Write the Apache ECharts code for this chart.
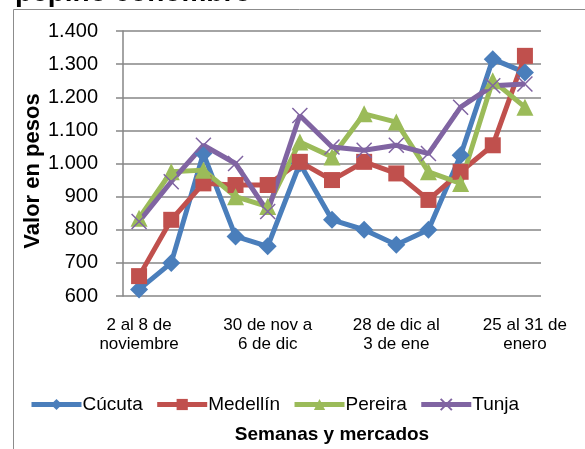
<!DOCTYPE html>
<html>
<head>
<meta charset="utf-8">
<script src="https://cdn.jsdelivr.net/npm/echarts@6/dist/echarts.min.js"></script>
<style>
  html, body { margin: 0; padding: 0; background: #fff; }
  #chart { width: 585px; height: 449px; }
</style>
</head>
<body>
<div id="chart"></div>
<script>
// semanas (13)
var semanas = [
  '2 al 8 de\nnoviembre', '9 al 15 de\nnoviembre', '16 al 22 de\nnoviembre', '23 al 29 de\nnoviembre',
  '30 de nov a\n6 de dic', '7 al 13 de\ndiciembre', '14 al 20 de\ndiciembre', '21 al 27 de\ndiciembre',
  '28 de dic al\n3 de ene', '4 al 10 de\nenero', '11 al 17 de\nenero', '18 al 24 de\nenero',
  '25 al 31 de\nenero'
];

// precios por mercado
var cucuta   = [620, 700, 1030, 780, 750, 1000, 830, 800, 755, 800, 1025, 1315, 1275];
var medellin = [660, 830, 940, 935, 935, 1005, 950, 1005, 970, 890, 975, 1055, 1325];
var pereira  = [835, 975, 980, 900, 870, 1065, 1020, 1150, 1125, 975, 940, 1250, 1170];
var tunja    = [825, 945, 1055, 1000, 855, 1145, 1050, 1040, 1055, 1030, 1170, 1235, 1240];

var fuente = "Arial, 'Liberation Sans', sans-serif";

function miles(v) {
  return String(v).replace(/\B(?=(\d{3})+(?!\d))/g, '.');
}

function serie(nombre, datos, color, simbolo, tam) {
  return {
    name: nombre,
    type: 'line',
    data: datos,
    symbol: simbolo,
    symbolSize: tam,
    showAllSymbol: true,
    lineStyle: { width: 5, color: color },
    itemStyle: { color: color },
    emphasis: { disabled: true }
  };
}

var chart = echarts.init(document.getElementById('chart'));
var tunjaSerie = serie('Tunja', tunja, '#8064A2', 'path://M0,0L10,10M10,0L0,10', 15);
tunjaSerie.itemStyle = { color: 'none', borderColor: '#8064A2', borderWidth: 1.5 };

chart.setOption({
  animation: false,
  textStyle: { fontFamily: fuente },
  graphic: [
    {
      type: 'rect', z: -10, silent: true,
      shape: { x: 13.5, y: 9.5, width: 620, height: 500 },
      style: { fill: 'none', stroke: '#8c8c8c', lineWidth: 1 }
    },
    {
      type: 'text', x: 15, y: -21, silent: true,
      style: { text: 'pepino cohombro', font: 'bold 28px ' + fuente, fill: '#000' }
    },
    {
      // titulo del eje y, algo mas abajo que el centro del grid
      type: 'text', x: 33, y: 171, rotation: Math.PI / 2, silent: true,
      style: {
        text: 'Valor en pesos', font: 'bold 22px ' + fuente, fill: '#000',
        textAlign: 'center', textVerticalAlign: 'middle'
      }
    }
  ],
  grid: { left: 123, right: 44, top: 31, bottom: 151 },
  legend: {
    left: 24, top: 390,
    itemWidth: 50, itemHeight: 14, itemGap: 12,
    lineStyle: { width: 5 },
    textStyle: { fontSize: 19, color: '#000', padding: [0, 0, 0, -4] },
    data: ['Cúcuta', 'Medellín', 'Pereira', 'Tunja']
  },
  xAxis: {
    type: 'category',
    data: semanas,
    name: 'Semanas y mercados',
    nameLocation: 'middle',
    nameGap: 129,
    nameTextStyle: { fontSize: 19, fontWeight: 'bold', color: '#000' },
    axisLine: { show: false },
    axisTick: { show: false },
    axisLabel: { interval: 3, fontSize: 17, color: '#000', lineHeight: 19, margin: 20 }
  },
  yAxis: {
    type: 'value',
    min: 600, max: 1400, interval: 100,
    axisLine: { show: true, lineStyle: { color: '#868686', width: 1.5 } },
    axisTick: { show: true, length: 7, lineStyle: { color: '#868686', width: 1.5 } },
    axisLabel: { fontSize: 20, color: '#000', margin: 25, formatter: miles },
    splitLine: { lineStyle: { color: '#868686', width: 1.5 } }
  },
  series: [
    serie('Cúcuta', cucuta, '#4A7EBB', 'diamond', 18),
    serie('Medellín', medellin, '#C0504D', 'rect', 16),
    serie('Pereira', pereira, '#9BBB59', 'triangle', 17),
    tunjaSerie
  ]
});
</script>
</body>
</html>
